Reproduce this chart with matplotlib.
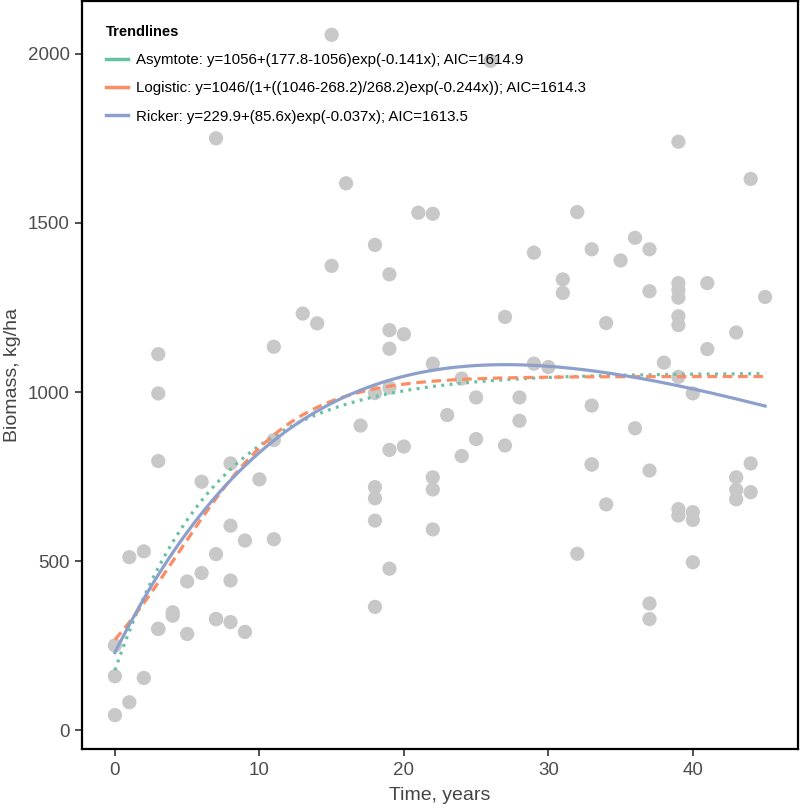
import numpy as np
import matplotlib
matplotlib.use("Agg")
import matplotlib.pyplot as plt
from matplotlib.lines import Line2D

# ==============================
# Data
# ==============================

years = [
    0, 0, 0, 1, 1, 2, 2, 3, 3, 3, 3, 3, 4, 4, 5, 5, 6, 6, 7, 7, 7, 7,
    8, 8, 8, 8, 9, 9, 10, 11, 11, 11, 13, 14, 15, 15, 16, 17,
    18, 18, 18, 18, 18, 18, 19, 19, 19, 19, 19, 19, 20, 20,
    21, 22, 22, 22, 22, 22, 23, 24, 24, 25, 25, 26, 27, 27, 28, 28,
    29, 29, 30, 31, 31, 32, 32, 33, 33, 33, 33, 34, 34, 35, 36, 36,
    37, 37, 37, 37, 37, 38, 39, 39, 39, 39, 39, 39, 39, 39, 39,
    40, 40, 40, 40, 41, 41, 43, 43, 43, 43, 44, 44, 44, 45,
]
biomass = [
    251, 160, 45, 512, 83, 529, 155, 1112, 996, 796, 300, 300, 349, 339, 440, 285, 735, 465, 1750, 521, 329, 329,
    789, 605, 443, 320, 561, 291, 742, 1134, 858, 565, 1232, 1203, 2056, 1373, 1617, 901,
    1435, 997, 719, 686, 620, 365, 1348, 1183, 1128, 1013, 829, 478, 1171, 839,
    1530, 1527, 1084, 748, 712, 594, 932, 1040, 811, 984, 861, 1979, 1222, 842, 984, 915,
    1412, 1084, 1074, 1333, 1293, 1532, 522, 1422, 960, 786, 786, 1204, 668, 1389, 1456, 893,
    1422, 1298, 768, 375, 329, 1087, 1740, 1322, 1302, 1279, 1224, 1198, 1045, 654, 635,
    996, 645, 622, 497, 1322, 1127, 1176, 748, 711, 683, 1630, 789, 704, 1281,
]

# trendline parameters, as printed in the legend
asym_a, asym_y0, asym_k = 1056, 177.8, 0.141
logi_a, logi_y0, logi_k = 1046, 268.2, 0.244
rick_a, rick_b, rick_k = 229.9, 85.6, 0.037

labels = [
    "Asymtote: y=1056+(177.8-1056)exp(-0.141x); AIC=1614.9",
    "Logistic: y=1046/(1+((1046-268.2)/268.2)exp(-0.244x)); AIC=1614.3",
    "Ricker: y=229.9+(85.6x)exp(-0.037x); AIC=1613.5",
]
colors = ["#66C2A5", "#FC8D62", "#8DA0CB"]

# ==============================
# Curves
# ==============================

xs = np.linspace(0, 45, 300)
y_asym = asym_a + (asym_y0 - asym_a) * np.exp(-asym_k * xs)
y_logi = logi_a / (1 + ((logi_a - logi_y0) / logi_y0) * np.exp(-logi_k * xs))
y_rick = rick_a + (rick_b * xs) * np.exp(-rick_k * xs)

# ==============================
# Plot
# ==============================

plt.rcParams["font.family"] = ["Liberation Sans", "DejaVu Sans"]

fig = plt.figure(figsize=(8, 8.09), dpi=100)
ax = fig.add_axes([0.103, 0.074, 0.894, 0.925])

ax.scatter(years, biomass, s=105, color="#C8C8C8", edgecolors="none", zorder=2)

ax.plot(xs, y_asym, color=colors[0], lw=2.3, linestyle=(0, (0.9, 1.7)),
        dash_capstyle="butt", zorder=3)
ax.plot(xs, y_logi, color=colors[1], lw=2.3, linestyle=(0, (3.0, 1.8)),
        dash_capstyle="butt", zorder=3)
ax.plot(xs, y_rick, color=colors[2], lw=2.3, zorder=4)

ax.set_xlim(-2.25, 47.25)
ax.set_ylim(-55.5, 2156.5)
ax.set_xticks([0, 10, 20, 30, 40])
ax.set_yticks([0, 500, 1000, 1500, 2000])

narrow = ["Liberation Sans Narrow", "Liberation Sans"]
for lab in ax.get_xticklabels():
    lab.set_family(narrow)
ax.tick_params(axis="both", direction="out", length=5, width=1.1,
               colors="#222222", labelcolor="#4D4D4D", labelsize=13.5, pad=4)

ax.set_xlabel("Time, years", fontsize=14, color="#444444", family=narrow, labelpad=6)
ax.set_ylabel("Biomass, kg/ha", fontsize=14, color="#444444", family=narrow, labelpad=5)

for sp in ax.spines.values():
    sp.set_linewidth(1.6)
    sp.set_color("black")

handles = [Line2D([0], [0], color=c, lw=2.5) for c in colors]
leg = ax.legend(handles, labels, title="Trendlines", loc="upper left",
                bbox_to_anchor=(0.02, 0.98), frameon=False, fontsize=10.8,
                handlelength=1.5, handletextpad=0.5, labelspacing=0.95,
                borderaxespad=0.2)
leg.get_title().set_fontweight("bold")
leg.get_title().set_fontsize(10.5)
leg._legend_box.align = "left"

fig.savefig("out.png", dpi=100)
